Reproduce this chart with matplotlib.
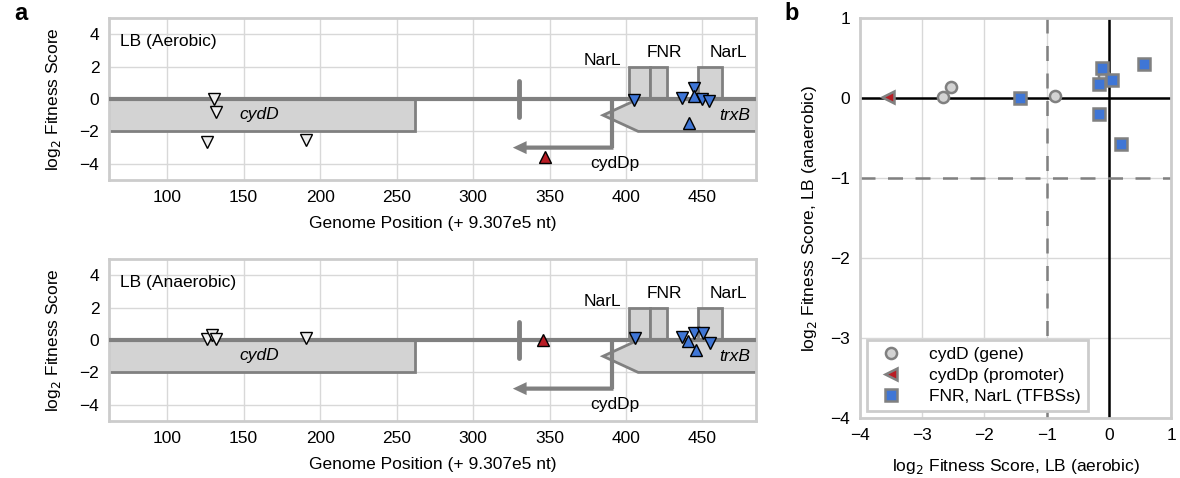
import matplotlib.pyplot as plt
from matplotlib.patches import Rectangle, Polygon

plt.rcParams['font.family'] = ['Liberation Sans', 'DejaVu Sans']
plt.rcParams['font.size'] = 12.5

# --- genome features (positions in nt, offset by 9.307e5) ---
cydD_end = 262
trxB_tip = 385
trxB_body = 408
promoter_x = 391
promoter_arrow_end = 326
promoter_y = -3
terminator_x = 330
tfbs_names = ["NarL", "FNR", "NarL"]
tfbs_start = [402, 416, 447]
tfbs_end = [416, 426.5, 462.5]

# --- aerobic fitness (top panel) ---
aer_gene_pos = [130.9, 132, 126, 190.8]
aer_gene_fit = [0.0, -0.8, -2.65, -2.52]
aer_gene_mk = ['v', 'v', 'v', 'v']
aer_prom_pos = [347]
aer_prom_fit = [-3.6]
aer_prom_mk = ['^']
aer_tfbs_pos = [405.4, 436.3, 444.2, 444.6, 449.6, 454.4, 441.0]
aer_tfbs_fit = [-0.05, 0.08, 0.67, 0.19, -0.02, -0.13, -1.48]
aer_tfbs_mk = ['v', 'v', 'v', '^', 'v', 'v', '^']

# --- anaerobic fitness (bottom panel) ---
ana_gene_pos = [125.9, 129.6, 131.9, 190.8]
ana_gene_fit = [0.05, 0.3, 0.05, 0.12]
ana_gene_mk = ['v', 'v', 'v', 'v']
ana_prom_pos = [346]
ana_prom_fit = [0.0]
ana_prom_mk = ['^']
ana_tfbs_pos = [405.9, 436.5, 440.2, 444.6, 450.5, 454.9, 445.7]
ana_tfbs_fit = [0.14, 0.2, -0.06, 0.45, 0.41, -0.21, -0.62]
ana_tfbs_mk = ['v', 'v', '^', 'v', 'v', 'v', '^']

# --- aerobic vs anaerobic (panel b) ---
gene_x = [-2.66, -2.54, -0.86, -0.08]
gene_y = [0.01, 0.14, 0.03, 0.27]
prom_x = [-3.55]
prom_y = [0.01]
tfbs_x = [-1.42, -0.11, -0.15, 0.05, -0.16, 0.20, 0.56]
tfbs_y = [0.0, 0.38, 0.18, 0.22, -0.20, -0.57, 0.43]

GRAY = '#808080'
LIGHT = '#d3d3d3'
BLUE = '#3f76d6'
RED = '#b81c24'
GRID = '#d8d8d8'
SPINE = '#cccccc'

fig = plt.figure(figsize=(11.8, 4.78), dpi=100)
ax1 = fig.add_axes([0.0924, 0.6234, 0.5483, 0.3389])
ax2 = fig.add_axes([0.0924, 0.1192, 0.5483, 0.3389])
ax3 = fig.add_axes([0.7288, 0.1255, 0.2636, 0.8368])


def style(ax):
    ax.set_axisbelow(True)
    ax.grid(True, color=GRID, lw=1)
    for s in ax.spines.values():
        s.set_color(SPINE)
        s.set_linewidth(2)
    ax.tick_params(length=0, pad=7, labelsize=12.5)


def draw_track(ax, title, gpos, gfit, gmk, ppos, pfit, pmk, tpos, tfit, tmk):
    style(ax)
    x0, x1 = 62, 485
    ax.set_xlim(x0, x1)
    ax.set_ylim(-5, 5)
    ax.set_xticks(range(100, 451, 50))
    ax.set_yticks([-4, -2, 0, 2, 4])

    # cydD gene body
    ax.add_patch(Rectangle((x0 - 20, -2), cydD_end - x0 + 20, 2,
                           fc=LIGHT, ec=GRAY, lw=2, zorder=2))
    # trxB gene (reverse strand, arrow shape)
    ax.add_patch(Polygon([(trxB_tip, -1), (trxB_body, 0), (x1 + 20, 0),
                          (x1 + 20, -2), (trxB_body, -2)],
                         closed=True, fc=LIGHT, ec=GRAY, lw=2, zorder=2))
    # TF binding sites
    for s, e in zip(tfbs_start, tfbs_end):
        ax.add_patch(Rectangle((s, 0), e - s, 2, fc=LIGHT, ec=GRAY, lw=2, zorder=2))
    # chromosome line
    ax.axhline(0, color=GRAY, lw=3, zorder=3)
    # terminator mark
    ax.plot([terminator_x, terminator_x], [-1.1, 1.1], color=GRAY, lw=3.5,
            solid_capstyle='round', zorder=3)
    # cydDp promoter bent arrow
    ax.plot([promoter_x, promoter_x], [0, promoter_y], color=GRAY, lw=3,
            solid_capstyle='butt', zorder=3)
    ax.arrow(promoter_x + 0.8, promoter_y, promoter_arrow_end - promoter_x - 0.8, 0,
             width=0.26, head_width=0.8, head_length=9, length_includes_head=True,
             fc=GRAY, ec='none', zorder=3)

    ax.text(tfbs_start[0] - 5, 2.4, tfbs_names[0], ha='right', va='center')
    ax.text((tfbs_start[1] + tfbs_end[1]) / 2 + 4, 2.85, tfbs_names[1], ha='center', va='center')
    ax.text((tfbs_start[2] + tfbs_end[2]) / 2 + 12, 2.85, tfbs_names[2], ha='center', va='center')
    ax.text(160, -0.95, 'cydD', style='italic', ha='center', va='center')
    ax.text(481, -1.0, 'trxB', style='italic', ha='right', va='center')
    ax.text(393, -4.0, 'cydDp', ha='center', va='center')
    ax.text(69, 3.55, title, ha='left', va='center')

    for x, y, m in zip(gpos, gfit, gmk):
        ax.plot(x, y, m, ms=8, mfc='#eeeeee', mec='black', mew=1, zorder=5)
    for x, y, m in zip(ppos, pfit, pmk):
        ax.plot(x, y, m, ms=8, mfc=RED, mec='black', mew=1, zorder=5)
    for x, y, m in zip(tpos, tfit, tmk):
        ax.plot(x, y, m, ms=8, mfc=BLUE, mec='black', mew=1, zorder=5)

    ax.set_xlabel('Genome Position (+ 9.307e5 nt)', labelpad=8)
    ax.set_ylabel('log$_2$ Fitness Score', labelpad=12)


draw_track(ax1, 'LB (Aerobic)', aer_gene_pos, aer_gene_fit, aer_gene_mk,
           aer_prom_pos, aer_prom_fit, aer_prom_mk,
           aer_tfbs_pos, aer_tfbs_fit, aer_tfbs_mk)
draw_track(ax2, 'LB (Anaerobic)', ana_gene_pos, ana_gene_fit, ana_gene_mk,
           ana_prom_pos, ana_prom_fit, ana_prom_mk,
           ana_tfbs_pos, ana_tfbs_fit, ana_tfbs_mk)

# panel b: aerobic vs anaerobic scatter
style(ax3)
ax3.set_xlim(-4, 1)
ax3.set_ylim(-4, 1)
ax3.set_xticks(range(-4, 2))
ax3.set_yticks(range(-4, 2))
ax3.axhline(0, color='black', lw=1.8, zorder=2)
ax3.axvline(0, color='black', lw=1.8, zorder=2)
ax3.axhline(-1, color=GRAY, lw=1.8, ls=(0, (6, 5)), zorder=2)
ax3.axvline(-1, color=GRAY, lw=1.8, ls=(0, (6, 5)), zorder=2)
ax3.plot(gene_x, gene_y, 'o', ms=8, mfc=LIGHT, mec=GRAY, mew=1.8,
         ls='none', label='cydD (gene)', zorder=4)
ax3.plot(prom_x, prom_y, '<', ms=8, mfc=RED, mec=GRAY, mew=1.8,
         ls='none', label='cydDp (promoter)', zorder=4)
ax3.plot(tfbs_x, tfbs_y, 's', ms=8, mfc=BLUE, mec=GRAY, mew=1.8,
         ls='none', label='FNR, NarL (TFBSs)', zorder=4)
leg = ax3.legend(loc='lower left', fancybox=False, framealpha=1,
                 borderaxespad=0.4, fontsize=12.5, handletextpad=1.2,
                 borderpad=0.4, labelspacing=0.35)
leg.get_frame().set_edgecolor(SPINE)
leg.get_frame().set_linewidth(2)
ax3.set_xlabel('log$_2$ Fitness Score, LB (aerobic)', labelpad=10)
ax3.set_ylabel('log$_2$ Fitness Score, LB (anaerobic)', labelpad=8)

fig.text(0.012, 0.972, 'a', fontsize=17, fontweight='bold', va='center')
fig.text(0.665, 0.972, 'b', fontsize=17, fontweight='bold', va='center')

fig.savefig('out.png', dpi=100)
